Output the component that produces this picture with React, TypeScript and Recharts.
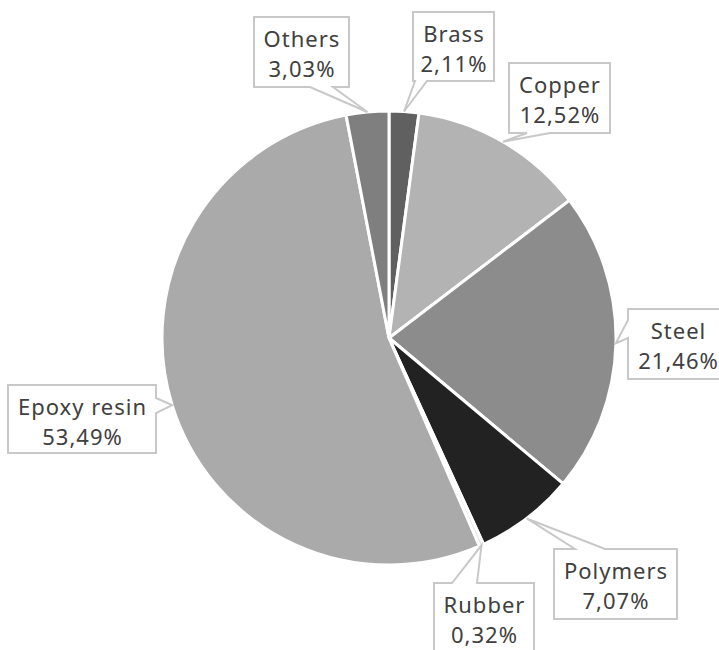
import { PieChart, Pie, Cell } from "recharts";

const MATERIALS = ["Brass", "Copper", "Steel", "Polymers", "Rubber", "Epoxy resin", "Others"];
const SHARES = [2.11, 12.52, 21.46, 7.07, 0.32, 53.49, 3.03];
const FILLS = ["#606060", "#b3b3b3", "#8c8c8c", "#222222", "#e8e8e8", "#aaaaaa", "#7f7f7f"];

// callout boxes: where each label box sits and which side the pointer leaves from
const CALLOUTS = [
  { x: 413, y: 12, w: 81, h: 69, side: "bottom", b1: 415, b2: 427 },
  { x: 509, y: 63, w: 101, h: 70, side: "bottom", b1: 527, b2: 550 },
  { x: 628, y: 309, w: 100, h: 70, side: "left", b1: 320, b2: 338 },
  { x: 554, y: 549, w: 123, h: 70, side: "top", b1: 575, b2: 605 },
  { x: 434, y: 583, w: 100, h: 70, side: "top", b1: 452, b2: 477 },
  { x: 8, y: 385, w: 148, h: 68, side: "right", b1: 398, b2: 413 },
  { x: 254, y: 17, w: 95, h: 70, side: "bottom", b1: 310, b2: 333 },
];

const data = MATERIALS.map((name, i) => ({ name, value: SHARES[i] }));

const RADIAN = Math.PI / 180;

function calloutPath(c: (typeof CALLOUTS)[number], tx: number, ty: number) {
  const { x, y, w, h, side, b1, b2 } = c;
  const r = x + w;
  const b = y + h;
  switch (side) {
    case "bottom":
      return `M${x},${y}L${r},${y}L${r},${b}L${b2},${b}L${tx},${ty}L${b1},${b}L${x},${b}Z`;
    case "top":
      return `M${x},${y}L${b1},${y}L${tx},${ty}L${b2},${y}L${r},${y}L${r},${b}L${x},${b}Z`;
    case "left":
      return `M${x},${y}L${r},${y}L${r},${b}L${x},${b}L${x},${b2}L${tx},${ty}L${x},${b1}Z`;
    default:
      return `M${x},${y}L${r},${y}L${r},${b1}L${tx},${ty}L${r},${b2}L${r},${b}L${x},${b}Z`;
  }
}

function CalloutLabel(props: any) {
  const { cx, cy, midAngle, outerRadius, index, name, value } = props;
  const c = CALLOUTS[index];
  if (!c) return null;
  const tx = cx + outerRadius * Math.cos(-midAngle * RADIAN);
  const ty = cy + outerRadius * Math.sin(-midAngle * RADIAN);
  // letter spacing leaves a trailing gap, nudge back by half of it
  const mid = c.x + c.w / 2 + 0.5;
  return (
    <g>
      <path d={calloutPath(c, tx, ty)} fill="#fff" stroke="#c8c8c8" strokeWidth={2} />
      <text
        x={mid}
        textAnchor="middle"
        fill="#404040"
        fontSize={22}
        letterSpacing={1}
        fontFamily="'Noto Sans', sans-serif"
      >
        <tspan x={mid} y={c.y + 30}>{name}</tspan>
        <tspan x={mid} y={c.y + 60}>{value.toFixed(2).replace(".", ",")}%</tspan>
      </text>
    </g>
  );
}

export default function App() {
  return (
    <div style={{ width: 719, height: 650, background: "#fff", overflow: "hidden" }}>
      <style>{"body{margin:0}"}</style>
      <PieChart width={719} height={650} margin={{ top: 0, right: 0, bottom: 0, left: 0 }}>
        <Pie
          data={data}
          dataKey="value"
          nameKey="name"
          cx={389}
          cy={338}
          outerRadius={227}
          startAngle={90}
          endAngle={-270}
          stroke="#ffffff"
          strokeWidth={3}
          labelLine={false}
          label={CalloutLabel}
          isAnimationActive={false}
        >
          {data.map((_, i) => (
            <Cell key={i} fill={FILLS[i]} />
          ))}
        </Pie>
      </PieChart>
    </div>
  );
}
